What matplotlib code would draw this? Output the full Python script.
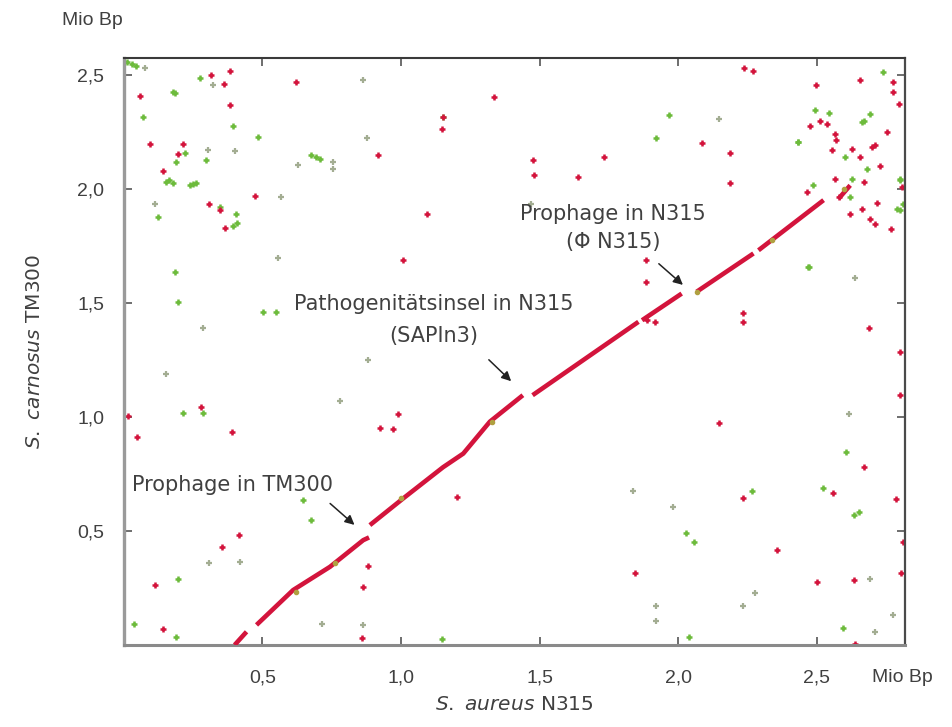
import matplotlib
matplotlib.use("Agg")
import matplotlib.pyplot as plt

plt.rcParams['font.family'] = ['DejaVu Sans']
plt.rcParams['mathtext.fontset'] = 'dejavusans'

# Genome positions in Mio Bp: x = S. aureus N315, y = S. carnosus TM300
# synteny backbone (forward matches), one list per segment between gaps
diag_segments = [
    [(0.40, 0.00), (0.443, 0.058)],
    [(0.479, 0.088), (0.611, 0.241), (0.744, 0.343), (0.864, 0.460), (0.885, 0.472)],
    [(0.888, 0.526), (1.008, 0.643), (1.152, 0.780), (1.225, 0.840), (1.321, 0.980), (1.440, 1.096)],
    [(1.475, 1.096), (1.857, 1.418)],
    [(1.870, 1.425), (2.013, 1.542)],
    [(2.067, 1.550), (2.272, 1.718)],
    [(2.290, 1.732), (2.525, 1.952)],
    [(2.579, 1.958), (2.621, 2.017)],
]

red_x = [0.058, 0.313, 0.361, 0.383, 0.385, 0.094, 0.214, 0.196, 0.142, 0.308, 0.349, 0.365,
         0.473, 0.623, 0.918, 1.093, 1.008, 1.147, 1.153, 1.337, 1.475, 1.481, 1.638, 1.734,
         2.087, 2.189, 2.189, 2.239, 2.270, 1.884, 1.884, 2.233, 2.233, 2.688, 2.800, 2.498,
         2.655, 2.775, 2.775, 2.797, 2.477, 2.513, 2.537, 2.567, 2.570, 2.555, 2.627, 2.657,
         2.699, 2.710, 2.753, 2.729, 2.464, 2.567, 2.669, 2.717, 2.621, 2.663, 2.693, 2.711,
         2.768, 2.807, 2.579, 1.887, 1.917, 1.846, 2.147, 2.233, 2.357, 2.501, 2.558, 2.669,
         2.633, 2.640, 2.801, 2.785, 2.810, 2.805, 0.046, 0.015, 0.280, 0.391, 0.924, 0.972,
         0.990, 1.201, 0.416, 0.353, 0.112, 0.142, 0.864, 0.880, 0.858]
red_y = [2.409, 2.500, 2.463, 2.518, 2.368, 2.200, 2.197, 2.154, 2.080, 1.937, 1.910, 1.830,
         1.971, 2.471, 2.149, 1.893, 1.689, 2.266, 2.316, 2.405, 2.127, 2.061, 2.054, 2.142,
         2.203, 2.160, 2.028, 2.530, 2.519, 1.689, 1.594, 1.455, 1.418, 1.389, 1.287, 2.456,
         2.478, 2.470, 2.427, 2.373, 2.276, 2.300, 2.285, 2.244, 2.215, 2.171, 2.178, 2.142,
         2.185, 2.195, 2.251, 2.100, 1.988, 2.046, 2.032, 1.940, 1.893, 1.915, 1.871, 1.849,
         1.827, 2.010, 1.966, 1.425, 1.418, 0.317, 0.972, 0.647, 0.417, 0.278, 0.665, 0.779,
         0.285, 0.004, 1.096, 0.639, 0.453, 0.314, 0.911, 1.004, 1.045, 0.936, 0.953, 0.946,
         1.013, 0.650, 0.482, 0.431, 0.263, 0.069, 0.256, 0.348, 0.029]

green_x = [0.012, 0.030, 0.045, 0.274, 0.178, 0.185, 0.070, 0.395, 0.485, 0.220, 0.298, 0.190,
           0.154, 0.165, 0.178, 0.238, 0.250, 0.262, 0.677, 0.692, 0.708, 0.124, 0.347, 0.404,
           0.395, 0.410, 0.184, 0.196, 0.503, 0.551, 1.153, 1.966, 1.920, 2.432, 2.474, 2.800,
           2.800, 2.741, 2.495, 2.543, 2.693, 2.663, 2.670, 2.434, 2.603, 2.681, 2.488, 2.627,
           2.621, 2.801, 2.813, 2.789, 2.470, 2.029, 2.059, 2.267, 2.522, 2.606, 2.634, 2.652,
           2.594, 0.214, 0.286, 0.647, 0.677, 0.196, 0.188, 0.036, 1.147, 2.041]
green_y = [2.560, 2.550, 2.540, 2.490, 2.427, 2.420, 2.317, 2.276, 2.229, 2.159, 2.130, 2.120,
           2.032, 2.040, 2.028, 2.018, 2.022, 2.028, 2.149, 2.142, 2.134, 1.878, 1.922, 1.893,
           1.838, 1.850, 1.637, 1.506, 1.462, 1.462, 2.317, 2.327, 2.226, 2.208, 1.659, 2.040,
           1.908, 2.515, 2.346, 2.335, 2.332, 2.296, 2.300, 2.208, 2.142, 2.090, 2.018, 2.046,
           1.966, 2.046, 1.937, 1.915, 1.660, 0.493, 0.453, 0.677, 0.690, 0.848, 0.570, 0.585,
           0.073, 1.016, 1.016, 0.636, 0.548, 0.288, 0.034, 0.092, 0.025, 0.034]

pale_x = [0.076, 0.322, 0.304, 0.400, 0.756, 0.756, 0.629, 0.876, 0.864, 0.569, 0.112, 0.286,
          0.557, 2.149, 1.469, 2.637, 1.836, 1.981, 1.921, 1.921, 2.233, 2.279, 2.616, 2.691,
          2.709, 2.777, 0.152, 0.780, 0.308, 0.421, 0.717, 0.864, 0.882]
pale_y = [2.530, 2.456, 2.171, 2.168, 2.120, 2.090, 2.105, 2.226, 2.478, 1.966, 1.937, 1.389,
          1.696, 2.309, 1.937, 1.612, 0.677, 0.607, 0.171, 0.107, 0.171, 0.227, 1.013, 0.288,
          0.058, 0.132, 1.189, 1.072, 0.361, 0.365, 0.092, 0.088, 1.250]

# olive spots sitting on the backbone
olive_x = [0.623, 0.762, 1.002, 1.327, 2.067, 2.338, 2.600]
olive_y = [0.234, 0.360, 0.643, 0.980, 1.550, 1.776, 2.000]

ticks = [0.5, 1.0, 1.5, 2.0, 2.5]
tick_labels = ['0,5', '1,0', '1,5', '2,0', '2,5']

RED = '#d3143c'
GREEN = '#6dbb3c'
PALE = '#a3ad92'
OLIVE = '#b0a040'
TXT = '#404040'

fig = plt.figure(figsize=(9.52, 7.27), dpi=100)
ax = fig.add_axes([0.130, 0.1128, 0.821, 0.8072])

for seg in diag_segments:
    xs = [p[0] for p in seg]
    ys = [p[1] for p in seg]
    ax.plot(xs, ys, color=RED, lw=3.3, solid_capstyle='butt', zorder=3)

ax.plot(pale_x, pale_y, ls='none', marker='+', ms=5, mew=1.6, color=PALE, zorder=2)
ax.plot(green_x, green_y, ls='none', marker='+', ms=5, mew=1.8, color=GREEN, zorder=2)
ax.plot(red_x, red_y, ls='none', marker='+', ms=5, mew=1.8, color=RED, zorder=2)
ax.plot(olive_x, olive_y, ls='none', marker='o', ms=3, color=OLIVE, zorder=4)

ax.set_xlim(0, 2.82)
ax.set_ylim(0, 2.575)
ax.set_xticks(ticks)
ax.set_xticklabels(tick_labels)
ax.set_yticks(ticks)
ax.set_yticklabels(tick_labels)
ax.tick_params(direction='in', length=6, width=1.2, colors='#555555',
               top=True, right=True, labelsize=14, labelcolor=TXT)
ax.tick_params(axis='x', pad=18)
ax.tick_params(axis='y', pad=14)
for lab in ax.get_xticklabels() + ax.get_yticklabels():
    lab.set_family('Liberation Sans')

ax.spines['left'].set_color('#9a9a9a')
ax.spines['left'].set_linewidth(2.4)
ax.spines['bottom'].set_color('#8a8a8a')
ax.spines['bottom'].set_linewidth(2.2)
ax.spines['top'].set_color('#3a3a3a')
ax.spines['top'].set_linewidth(1.5)
ax.spines['right'].set_color('#4a4a4a')
ax.spines['right'].set_linewidth(1.6)

ax.set_xlabel(r'$\it{S.\ aureus}$ N315', fontsize=14.5, color=TXT, labelpad=6)
ax.set_ylabel(r'$\it{S.\ carnosus}$ TM300', fontsize=14.5, color=TXT, labelpad=24)

ax.text(2.70, -0.056, 'Mio Bp', transform=ax.get_xaxis_transform(), ha='left', va='center',
        fontsize=14, color=TXT, family='Liberation Sans')
ax.text(-0.04, 1.065, 'Mio Bp', transform=ax.transAxes, ha='center', va='center',
        fontsize=14, color=TXT, family='Liberation Sans')

arrow = dict(arrowstyle='-|>', color='#222222', lw=1.1, mutation_scale=14)
ax.text(0.03, 0.70, 'Prophage in TM300', fontsize=15, color=TXT, ha='left', va='center')
ax.annotate('', xy=(0.84, 0.519), xytext=(0.737, 0.629), arrowprops=arrow)

ax.text(1.12, 1.425, 'Pathogenitätsinsel in N315\n(SAPIn3)', fontsize=15, color=TXT,
        ha='center', va='center', linespacing=1.75)
ax.annotate('', xy=(1.405, 1.149), xytext=(1.31, 1.26), arrowprops=arrow)

ax.text(1.765, 1.83, 'Prophage in N315\n(Φ N315)', fontsize=15, color=TXT,
        ha='center', va='center', linespacing=1.45)
ax.annotate('', xy=(2.025, 1.572), xytext=(1.923, 1.681), arrowprops=arrow)

fig.savefig('out.png', dpi=100)
